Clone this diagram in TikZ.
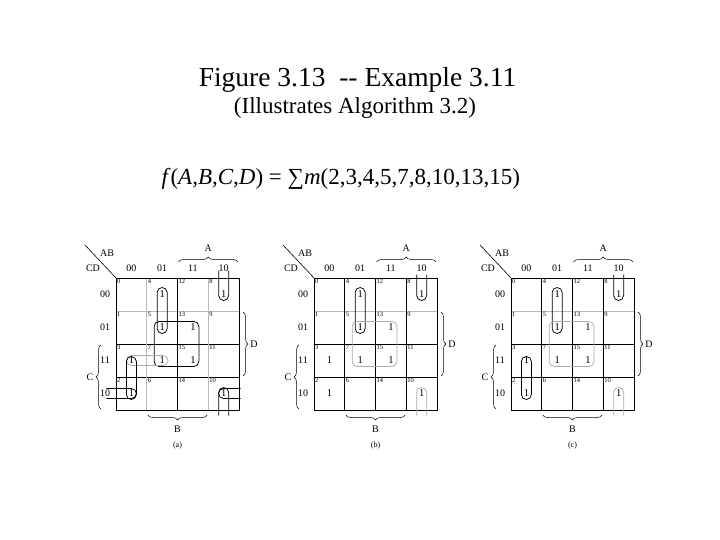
\documentclass[tikz,border=0pt]{standalone}
\usepackage{fontspec}
\setmainfont{Liberation Serif}
\usetikzlibrary{decorations.pathreplacing}

\newcommand{\cw}{30.75}
\newcommand{\ch}{33}

% one Karnaugh map: #1 name prefix, #2-#4 colours of the inner column lines, #5 caption
\newcommand{\kmap}[5]{%
  \draw[gline,gray!55] (0,\ch) -- ({4*\cw},\ch);
  \draw[gline] (0,{2*\ch}) -- ({4*\cw},{2*\ch});
  \draw[gline] (0,{3*\ch}) -- ({4*\cw},{3*\ch});
  \draw[gline,#2] (\cw,0) -- (\cw,{4*\ch});
  \draw[gline,#3] ({2*\cw},0) -- ({2*\cw},{4*\ch});
  \draw[gline,#4] ({3*\cw},0) -- ({3*\cw},{4*\ch});
  \draw[frame] (0,0) rectangle ({4*\cw},{4*\ch});
  \draw[gline] (-31,-33) -- (0,0);
  \node[lbl] (#1ab) at (-9,-25) {AB};
  \node[lbl] (#1cd) at (-23,-10) {CD};
  \foreach \v [count=\i from 0] in {00,01,11,10} {
    \node[lbl] (#1col\v) at ({(\i+0.5)*\cw},-10) {\v};
    \node[lbl] (#1row\v) at (-11,{(\i+0.5)*\ch}) {\v};
  }
  \foreach \m/\c/\r in {0/0/0,4/1/0,12/2/0,8/3/0,1/0/1,5/1/1,13/2/1,9/3/1,
                        3/0/2,7/1/2,15/2/2,11/3/2,2/0/3,6/1/3,14/2/3,10/3/3} {
    \coordinate (#1\m) at ({(\c+0.5)*\cw},{(\r+0.5)*\ch});
    \node[cellno] (#1no\m) at ({\c*\cw},{\r*\ch}) {\m};
  }
  \foreach \m in {2,3,4,5,7,8,10,13,15}
    \node[one] (#1one\m) at (#1\m) {1};
  \draw[brace] ({2*\cw+1},-16) -- ({4*\cw-1},-16);
  \node[lbl] (#1A) at ({3*\cw},-30) {A};
  \draw[brace] ({4*\cw+4},{\ch+1}) -- ({4*\cw+4},{3*\ch-1});
  \node[lbl] (#1D) at ({4*\cw+15},{2*\ch}) {D};
  \draw[brace] (-15,{4*\ch-1}) -- (-15,{2*\ch+1});
  \node[lbl] (#1C) at (-26,{3*\ch}) {C};
  \draw[brace] ({3*\cw-1},137) -- ({\cw+1},137);
  \node[lbl] (#1B) at ({2*\cw},151) {B};
  \node[mapcap] (#1cap) at ({2*\cw},168) {#5};
}

\begin{document}
\begin{tikzpicture}[
    x=1pt, y=-1pt,
    gline/.style={line width=0.6pt},
    frame/.style={line width=0.9pt},
    lp/.style={draw=black, line width=0.75pt, rounded corners=5pt},
    lpg/.style={lp, draw=gray!65},
    brace/.style={decorate, decoration={brace, amplitude=5pt}, line width=0.5pt},
    lbl/.style={font={\fontsize{10}{12}\selectfont}, inner sep=0pt},
    cellno/.style={anchor=north west, font={\fontsize{6.5}{7}\selectfont}, inner sep=1pt},
    one/.style={font={\fontsize{10.5}{12}\selectfont}, inner sep=0pt},
    mapcap/.style={font={\fontsize{8}{10}\selectfont}, inner sep=0pt},
    ttl/.style={font={\fontsize{27.5}{30}\selectfont}, anchor=base},
    sub/.style={font={\fontsize{23}{26}\selectfont}, anchor=base}
  ]
  \useasboundingbox[fill=white] (0,0) rectangle (720,540);

  \node[ttl] (title) at (357.5,87) {Figure 3.13\ \ -{}- Example 3.11};
  \node[sub] (algo)  at (355,114) {(Illustrates Algorithm 3.2)};
  \node[sub, anchor=base west] (func) at (158,185)
    {\textit{f}(\textit{A,B,C,D}) = ∑\textit{m}(2,3,4,5,7,8,10,13,15)};

  % (a) all prime implicants
  \begin{scope}[shift={(116,278)}]
    \kmap{a}{gray!55}{black}{gray!55}{(a)}
    \draw[lp] ([xshift=-5pt,yshift=7pt]a4) rectangle ([xshift=5pt,yshift=-6pt]a5);
    \draw[lp] ([xshift=-8pt,yshift=6pt]a5) rectangle ([xshift=6pt,yshift=-6pt]a15);
    \draw[lpg] ([xshift=-5pt,yshift=5pt]a3) rectangle ([xshift=6pt,yshift=-5pt]a7);
    \draw[lp] ([xshift=-5pt,yshift=4pt]a3) rectangle ([xshift=5pt,yshift=-6pt]a2);
    \draw[lp] ([xshift=-5pt,yshift=24pt]a8) -- ([xshift=-5pt,yshift=-6pt]a8)
      -- ([xshift=5pt,yshift=-6pt]a8) -- ([xshift=5pt,yshift=24pt]a8);
    \draw[lp] ([xshift=-5pt,yshift=-22pt]a10) -- ([xshift=-5pt,yshift=6pt]a10)
      -- ([xshift=5pt,yshift=6pt]a10) -- ([xshift=5pt,yshift=-22pt]a10);
    \draw[lp] ([xshift=-25pt,yshift=5pt]a2) -- ([xshift=5pt,yshift=5pt]a2)
      -- ([xshift=5pt,yshift=-5pt]a2) -- ([xshift=-25pt,yshift=-5pt]a2);
    \draw[lp] ([xshift=17pt,yshift=5pt]a10) -- ([xshift=-5pt,yshift=5pt]a10)
      -- ([xshift=-5pt,yshift=-5pt]a10) -- ([xshift=17pt,yshift=-5pt]a10);
  \end{scope}

  % (b) essential prime implicants
  \begin{scope}[shift={(314,278)}]
    \kmap{b}{black}{black}{black}{(b)}
    \draw[lp] ([xshift=-5pt,yshift=7pt]b4) rectangle ([xshift=5pt,yshift=-6pt]b5);
    \draw[lpg] ([xshift=-8pt,yshift=6pt]b5) rectangle ([xshift=6pt,yshift=-6pt]b15);
    \draw[lp] ([xshift=-5pt,yshift=20pt]b8) -- ([xshift=-5pt,yshift=-6pt]b8)
      -- ([xshift=5pt,yshift=-6pt]b8) -- ([xshift=5pt,yshift=20pt]b8);
    \draw[lpg] ([xshift=-5pt,yshift=-22pt]b10) -- ([xshift=-5pt,yshift=6pt]b10)
      -- ([xshift=5pt,yshift=6pt]b10) -- ([xshift=5pt,yshift=-22pt]b10);
  \end{scope}

  % (c) minimal cover
  \begin{scope}[shift={(511,278)}]
    \kmap{c}{black}{black}{black}{(c)}
    \draw[lp] ([xshift=-5pt,yshift=7pt]c4) rectangle ([xshift=5pt,yshift=-6pt]c5);
    \draw[lpg] ([xshift=-8pt,yshift=6pt]c5) rectangle ([xshift=6pt,yshift=-6pt]c15);
    \draw[lp] ([xshift=-5pt,yshift=4pt]c3) rectangle ([xshift=5pt,yshift=-6pt]c2);
    \draw[lp] ([xshift=-5pt,yshift=20pt]c8) -- ([xshift=-5pt,yshift=-6pt]c8)
      -- ([xshift=5pt,yshift=-6pt]c8) -- ([xshift=5pt,yshift=20pt]c8);
    \draw[lpg] ([xshift=-5pt,yshift=-22pt]c10) -- ([xshift=-5pt,yshift=6pt]c10)
      -- ([xshift=5pt,yshift=6pt]c10) -- ([xshift=5pt,yshift=-22pt]c10);
  \end{scope}
\end{tikzpicture}
\end{document}
